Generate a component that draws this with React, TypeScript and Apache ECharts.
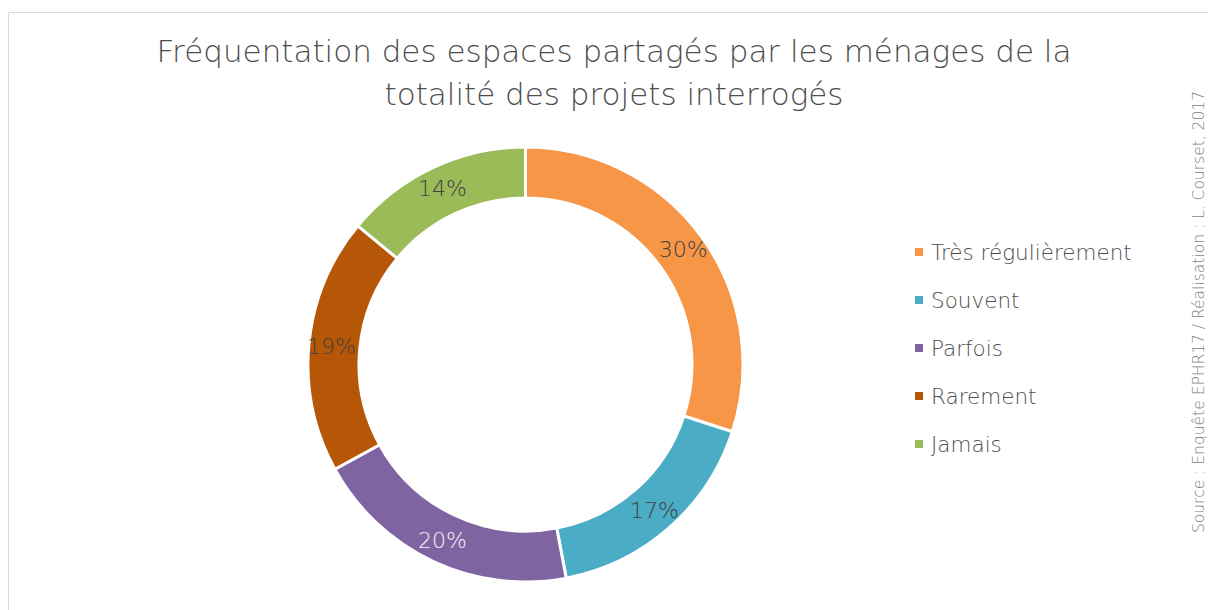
import React, { useEffect, useRef } from "react";
import * as echarts from "echarts";

const titleLines = [
  "Fréquentation des espaces partagés par les ménages de la",
  "totalité des projets interrogés",
];
const categories = ["Très régulièrement", "Souvent", "Parfois", "Rarement", "Jamais"];
const values = [30, 17, 20, 19, 14];
const colors = ["#F79646", "#4BACC6", "#8064A2", "#B65708", "#9BBB59"];
const labelColors = ["#404040", "#404040", "#F2F2F2", "#404040", "#404040"];
const sourceText = "Source : Enquête EPHR17 / Réalisation : L. Courset, 2017";

const FONT = "DejaVu Sans";

export default function App() {
  const ref = useRef<HTMLDivElement>(null);
  useEffect(() => {
    document.body.style.margin = "0";
    const chart = echarts.init(ref.current!, null, { renderer: "svg" });
    chart.setOption({
      animation: false,
      backgroundColor: "#ffffff",
      legend: {
        orient: "vertical",
        left: 913,
        top: 240,
        padding: 0,
        itemWidth: 10,
        itemHeight: 10,
        itemGap: 24,
        icon: "rect",
        data: categories,
        textStyle: {
          fontFamily: FONT,
          fontWeight: 200,
          fontSize: 21.5,
          lineHeight: 24,
          color: "#4D4D4D",
          padding: [0, 0, 0, 2],
        },
      },
      graphic: [
        {
          type: "rect",
          z: -10,
          shape: { x: 8.5, y: 12.5, width: 1400, height: 800 },
          style: { fill: "none", stroke: "#D9D9D9", lineWidth: 1 },
        },
        ...titleLines.map((t, i) => ({
          type: "text",
          x: 614,
          y: 66 + i * 43,
          style: {
            text: t,
            fontFamily: FONT,
            fontWeight: 200,
            fontSize: 31,
            fill: "#4D4D4D",
            textAlign: "center",
            textVerticalAlign: "bottom",
          },
        })),
        {
          type: "text",
          x: 1199,
          y: 312,
          rotation: Math.PI / 2,
          style: {
            text: sourceText,
            fontFamily: FONT,
            fontWeight: 200,
            fontSize: 15.5,
            fill: "#7F7F7F",
            textAlign: "center",
            textVerticalAlign: "middle",
          },
        },
      ],
      series: [
        {
          type: "pie",
          center: [525.5, 364.5],
          radius: [166.5, 217.5],
          startAngle: 90,
          clockwise: true,
          avoidLabelOverlap: false,
          itemStyle: { borderColor: "#ffffff", borderWidth: 3 },
          label: {
            show: true,
            position: "inside",
            formatter: "{c}%",
            fontFamily: FONT,
            fontWeight: 200,
            fontSize: 22,
          },
          labelLine: { show: false },
          emphasis: { disabled: true },
          data: categories.map((name, i) => ({
            name,
            value: values[i],
            itemStyle: { color: colors[i] },
            label: { color: labelColors[i] },
          })),
        },
      ],
    });
    return () => chart.dispose();
  }, []);
  return <div ref={ref} style={{ width: 1208, height: 610 }} />;
}
